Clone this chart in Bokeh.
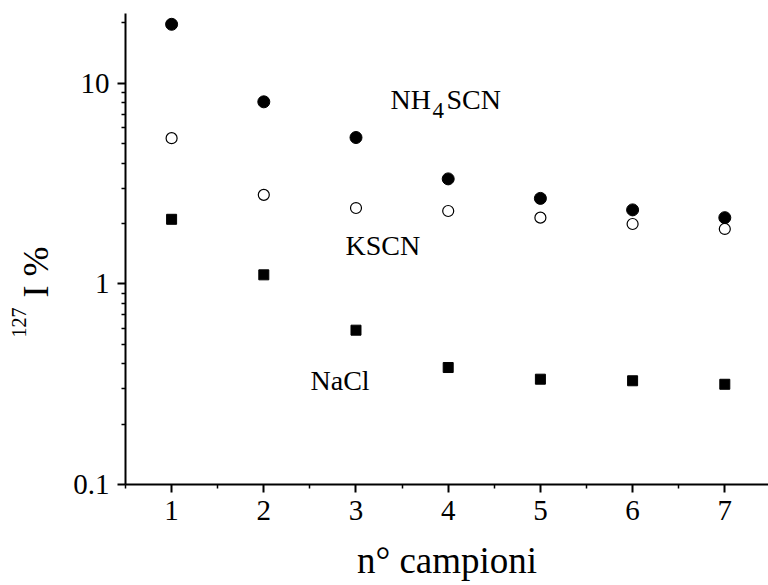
from bokeh.plotting import figure
from bokeh.models import FixedTicker, Label, Range1d, Title
from bokeh.embed import file_html
from bokeh.resources import INLINE

# ---- data ----
samples = [1, 2, 3, 4, 5, 6, 7]
nh4scn = [19.7, 8.09, 5.37, 3.34, 2.67, 2.34, 2.14]
kscn = [5.33, 2.78, 2.39, 2.31, 2.14, 1.99, 1.88]
nacl = [2.10, 1.11, 0.588, 0.383, 0.335, 0.329, 0.316]
x_ticks = [1, 2, 3, 4, 5, 6, 7]
x_minor = [0.5, 1.5, 2.5, 3.5, 4.5, 5.5, 6.5, 7.5]
y_ticks = [0.1, 1, 10]
y_minor = [0.2, 0.3, 0.4, 0.5, 0.6, 0.7, 0.8, 0.9,
           2, 3, 4, 5, 6, 7, 8, 9, 20]

FONT = "Liberation Serif"

p = figure(width=768, height=585, y_axis_type="log",
           x_range=Range1d(0.5, 7.474), y_range=Range1d(0.1, 22.3),
           output_backend="svg", toolbar_location=None,
           min_border_left=125, min_border_right=0,
           min_border_top=13, min_border_bottom=101)
p.outline_line_color = None
p.xgrid.visible = False
p.ygrid.visible = False
p.background_fill_color = "white"
p.border_fill_color = "white"

for ax in (p.xaxis[0], p.yaxis[0]):
    ax.axis_line_width = 2
    ax.axis_line_color = "black"
    ax.major_tick_line_width = 2
    ax.minor_tick_line_width = 1.5
    ax.major_tick_line_color = "black"
    ax.minor_tick_line_color = "black"
    ax.major_tick_out = 8
    ax.major_tick_in = 0
    ax.minor_tick_out = 4
    ax.minor_tick_in = 0
    ax.major_label_text_font = FONT
    ax.major_label_text_font_size = "29px"
    ax.major_label_text_color = "black"

p.xaxis.ticker = FixedTicker(ticks=x_ticks, minor_ticks=x_minor)
p.yaxis.ticker = FixedTicker(ticks=y_ticks, minor_ticks=y_minor)
p.yaxis.major_label_overrides = {0.1: "0.1", 1: "1", 10: "10"}
p.xaxis.major_label_standoff = 8
p.yaxis.major_label_standoff = 8

p.xaxis.axis_label = "n° campioni"
p.xaxis.axis_label_text_font = FONT
p.xaxis.axis_label_text_font_size = "37px"
p.xaxis.axis_label_text_font_style = "normal"
p.xaxis.axis_label_text_color = "black"
p.xaxis.axis_label_standoff = 17

p.scatter(samples, nh4scn, marker="circle", size=12,
          fill_color="black", line_color="black")
p.scatter(samples, kscn, marker="circle", size=11,
          fill_color="white", line_color="black", line_width=1.2)
p.scatter(samples, nacl, marker="square", size=10,
          fill_color="black", line_color="black")


def lab(text, x, y, size):
    p.add_layout(Label(x=x, y=y, x_units="canvas", y_units="canvas",
                       text=text, text_font=FONT, text_font_size=size,
                       text_color="black", text_align="left",
                       text_baseline="alphabetic"))


# series annotations
lab("NH", 390, 99, "28px")
lab("4", 432, 110, "23px")
lab("SCN", 446, 99, "28px")
lab("KSCN", 345, 245, "28px")
lab("NaCl", 310, 380, "28px")

# y-axis title: "I %" with superscript mass number
t_main = Title(text="I %", align="left", offset=187, standoff=26,
               vertical_align="top", text_font=FONT,
               text_font_size="36px", text_font_style="normal",
               text_color="black")
t_sup = Title(text="127", align="left", offset=147, standoff=-46,
              vertical_align="bottom", text_font=FONT,
              text_font_size="20px", text_font_style="normal",
              text_color="black")
p.add_layout(t_main, "left")
p.add_layout(t_sup, "left")

open("out.html", "w").write(file_html(p, INLINE))
